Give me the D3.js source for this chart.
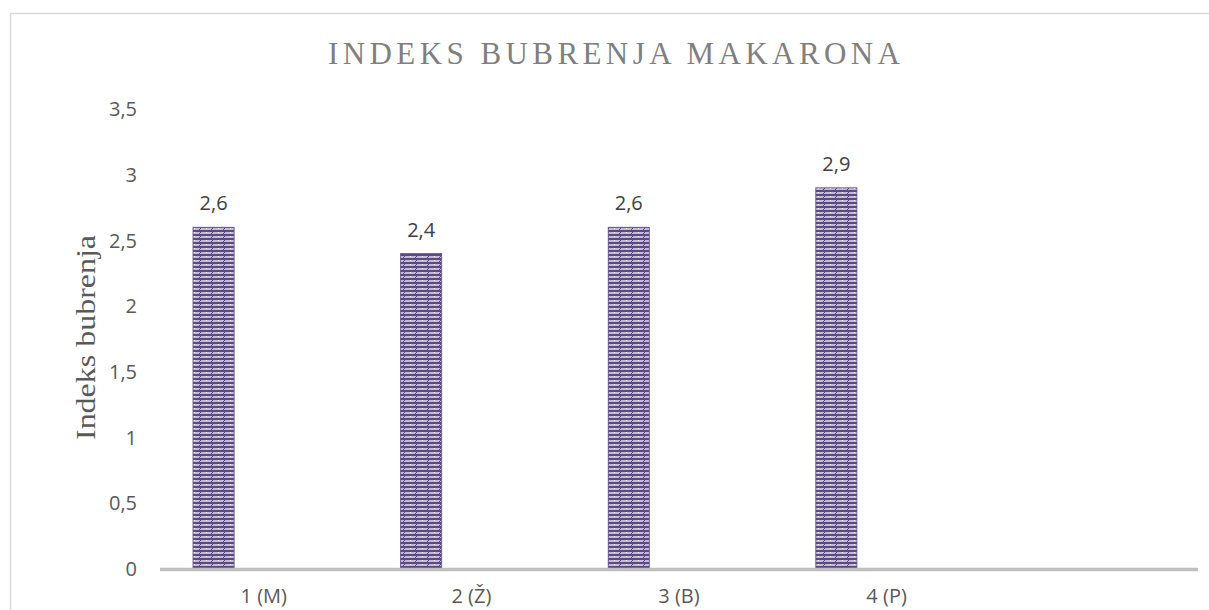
<!DOCTYPE html>
<html>
<head>
<meta charset="utf-8">
<script src="https://cdn.jsdelivr.net/npm/d3@7"></script>
<style>
  html, body { margin: 0; padding: 0; background: #ffffff; }
  svg { display: block; }
</style>
</head>
<body>
<svg id="chart" width="1209" height="610"></svg>
<script>
// ---- data ----
const categories = ["1 (M)", "2 (Ž)", "3 (B)", "4 (P)", ""];
const values = [2.6, 2.4, 2.6, 2.9, null];
const yTicks = [0, 0.5, 1, 1.5, 2, 2.5, 3, 3.5];
const titleText = "INDEKS BUBRENJA MAKARONA";
const yTitleText = "Indeks bubrenja";

const fmt = v => String(v).replace(".", ",");

const svg = d3.select("#chart");

// pattern fill for bars
const defs = svg.append("defs");
const pat = defs.append("pattern")
  .attr("id", "barPattern")
  .attr("patternUnits", "userSpaceOnUse")
  .attr("width", 12).attr("height", 4);
pat.append("rect").attr("width", 12).attr("height", 4).attr("fill", "#c4b8df");
pat.append("rect").attr("y", 2).attr("width", 12).attr("height", 2).attr("fill", "#5a4b82");
pat.append("line").attr("x1", 7).attr("y1", 2).attr("x2", 9).attr("y2", 0)
  .attr("stroke", "#3e3160").attr("stroke-width", 0.8);
pat.append("rect").attr("x", 2).attr("y", 0).attr("width", 1).attr("height", 1).attr("fill", "#ffffff");

// chart frame
svg.append("rect")
  .attr("x", 10.5).attr("y", 13.5)
  .attr("width", 1240).attr("height", 640)
  .attr("fill", "none").attr("stroke", "#d9d9d9").attr("stroke-width", 1.5);

// scales
const x = d3.scaleBand().domain(categories).range([160, 1198]).padding(0);
const y = d3.scaleLinear().domain([0, 3.5]).range([569, 109]);

const bw = x.bandwidth();
const barOffset = bw * 0.159;
const barWidth = bw * 0.198;

// y tick labels
svg.append("g").selectAll("text")
  .data(yTicks).join("text")
  .attr("x", 137)
  .attr("y", d => y(d))
  .attr("dy", "0.36em")
  .attr("text-anchor", "end")
  .attr("font-family", "'Open Sans', sans-serif")
  .attr("font-size", 20)
  .attr("fill", "#595959")
  .text(d => fmt(d));

// bars
const data = categories.map((c, i) => ({ c, v: values[i] })).filter(d => d.v != null);
svg.append("g").selectAll("rect")
  .data(data).join("rect")
  .attr("x", d => x(d.c) + barOffset)
  .attr("y", d => y(d.v))
  .attr("width", barWidth)
  .attr("height", d => y(0) - y(d.v))
  .attr("fill", "url(#barPattern)")
  .attr("stroke", "#5b4c85")
  .attr("stroke-width", 0.8);

// data labels
svg.append("g").selectAll("text")
  .data(data).join("text")
  .attr("x", d => x(d.c) + barOffset + barWidth / 2)
  .attr("y", d => y(d.v) - 17)
  .attr("text-anchor", "middle")
  .attr("font-family", "'Open Sans', sans-serif")
  .attr("font-size", 20)
  .attr("fill", "#404040")
  .text(d => fmt(d.v));

// x axis line
svg.append("line")
  .attr("x1", x.range()[0]).attr("x2", x.range()[1])
  .attr("y1", y(0) + 0.5).attr("y2", y(0) + 0.5)
  .attr("stroke", "#bfbfbf").attr("stroke-width", 3.5);

// category labels
svg.append("g").selectAll("text")
  .data(categories.filter(c => c !== "")).join("text")
  .attr("x", d => x(d) + bw / 2)
  .attr("y", 603)
  .attr("text-anchor", "middle")
  .attr("font-family", "'Open Sans', sans-serif")
  .attr("font-size", 20)
  .attr("fill", "#595959")
  .text(d => d);

// title
svg.append("text")
  .attr("x", 328).attr("y", 64)
  .attr("text-anchor", "start")
  .attr("font-family", "'Liberation Serif', 'Times New Roman', serif")
  .attr("font-size", 31)
  .attr("fill", "#7f7f7f")
  .attr("textLength", 572)
  .attr("lengthAdjust", "spacing")
  .text(titleText);

// y axis title
svg.append("text")
  .attr("transform", "translate(95,440) rotate(-90)")
  .attr("x", 0).attr("y", 0)
  .attr("text-anchor", "start")
  .attr("font-family", "'Liberation Serif', 'Times New Roman', serif")
  .attr("font-size", 28)
  .attr("fill", "#595959")
  .attr("textLength", 205)
  .attr("lengthAdjust", "spacingAndGlyphs")
  .text(yTitleText);
</script>
</body>
</html>
